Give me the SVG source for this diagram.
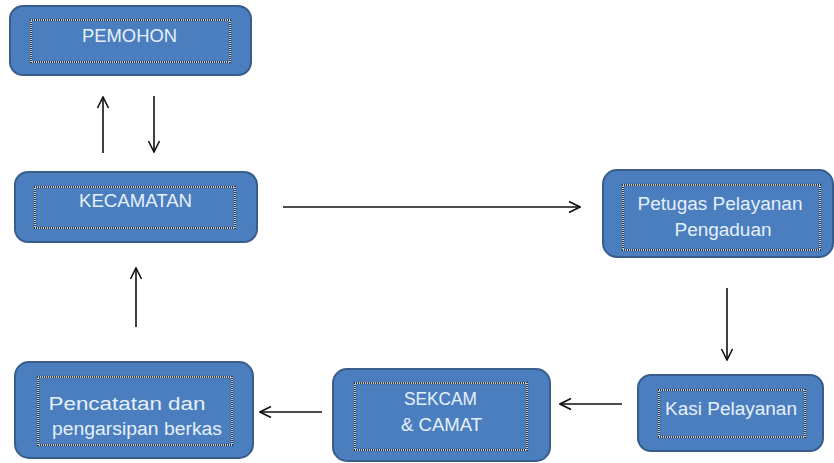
<svg xmlns="http://www.w3.org/2000/svg" width="834" height="463" viewBox="0 0 834 463">
<style>
.box{fill:#4a7ebf;stroke:#385d8a;stroke-width:2}
.in1{fill:none;stroke:#2a3440;stroke-width:2.2}
.in2{fill:none;stroke:#ffffff;stroke-width:1.5;stroke-dasharray:1 1}
.t{font-family:"Liberation Sans",Arial,sans-serif;font-size:18px;fill:#e6f0fb;text-anchor:middle}
.c{stroke:#111;stroke-width:1.6;fill:none}
</style>
<defs>
<marker id="ah" viewBox="0 0 14 14" refX="13" refY="7" markerWidth="14" markerHeight="14" markerUnits="userSpaceOnUse" orient="auto">
<path d="M2,1.5 L13,7 L2,12.5" fill="none" stroke="#111" stroke-width="1.6"/>
</marker>
</defs>
<rect width="834" height="463" fill="#ffffff"/>
<g id="pemohon">
<rect class="box" x="10" y="6" width="241" height="69" rx="13"/>
<rect class="in1" x="31" y="20" width="199" height="42"/>
<rect class="in2" x="31" y="20" width="199" height="42"/>
<text class="t" x="129.5" y="42" textLength="95" lengthAdjust="spacingAndGlyphs">PEMOHON</text>
</g>
<g id="kecamatan">
<rect class="box" x="15" y="172" width="242" height="70" rx="13"/>
<rect class="in1" x="35" y="187" width="200" height="41"/>
<rect class="in2" x="35" y="187" width="200" height="41"/>
<text class="t" x="135.5" y="207" textLength="113" lengthAdjust="spacingAndGlyphs">KECAMATAN</text>
</g>
<g id="petugas">
<rect class="box" x="603" y="170" width="230" height="87" rx="14"/>
<rect class="in1" x="623" y="185" width="197" height="65"/>
<rect class="in2" x="623" y="185" width="197" height="65"/>
<text class="t" x="720" y="210" textLength="165" lengthAdjust="spacingAndGlyphs">Petugas Pelayanan</text>
<text class="t" x="723" y="236" textLength="97" lengthAdjust="spacingAndGlyphs">Pengaduan</text>
</g>
<g id="kasi">
<rect class="box" x="638" y="375" width="185" height="76" rx="13"/>
<rect class="in1" x="659" y="390" width="146" height="47"/>
<rect class="in2" x="659" y="390" width="146" height="47"/>
<text class="t" x="731" y="415" textLength="132" lengthAdjust="spacingAndGlyphs">Kasi Pelayanan</text>
</g>
<g id="sekcam">
<rect class="box" x="333" y="369" width="217" height="92" rx="14"/>
<rect class="in1" x="355" y="383" width="172" height="67"/>
<rect class="in2" x="355" y="383" width="172" height="67"/>
<text class="t" x="440.5" y="405" textLength="73" lengthAdjust="spacingAndGlyphs">SEKCAM</text>
<text class="t" x="441.5" y="431" textLength="81" lengthAdjust="spacingAndGlyphs">&amp; CAMAT</text>
</g>
<g id="pencatatan">
<rect class="box" x="15" y="362" width="238" height="96" rx="14"/>
<rect class="in1" x="38" y="377" width="194" height="68"/>
<rect class="in2" x="38" y="377" width="194" height="68"/>
<text class="t" x="127" y="410" textLength="157" lengthAdjust="spacingAndGlyphs">Pencatatan dan</text>
<text class="t" x="137" y="435" textLength="170" lengthAdjust="spacingAndGlyphs">pengarsipan berkas</text>
</g>
<g id="connectors">
<line class="c" x1="103" y1="153" x2="103" y2="97" marker-end="url(#ah)"/>
<line class="c" x1="154" y1="96" x2="154" y2="152" marker-end="url(#ah)"/>
<line class="c" x1="283" y1="207" x2="580" y2="207" marker-end="url(#ah)"/>
<line class="c" x1="727" y1="288" x2="727" y2="360" marker-end="url(#ah)"/>
<line class="c" x1="622" y1="404" x2="560" y2="404" marker-end="url(#ah)"/>
<line class="c" x1="322" y1="412" x2="260" y2="412" marker-end="url(#ah)"/>
<line class="c" x1="136" y1="327" x2="136" y2="268" marker-end="url(#ah)"/>
</g>
</svg>
